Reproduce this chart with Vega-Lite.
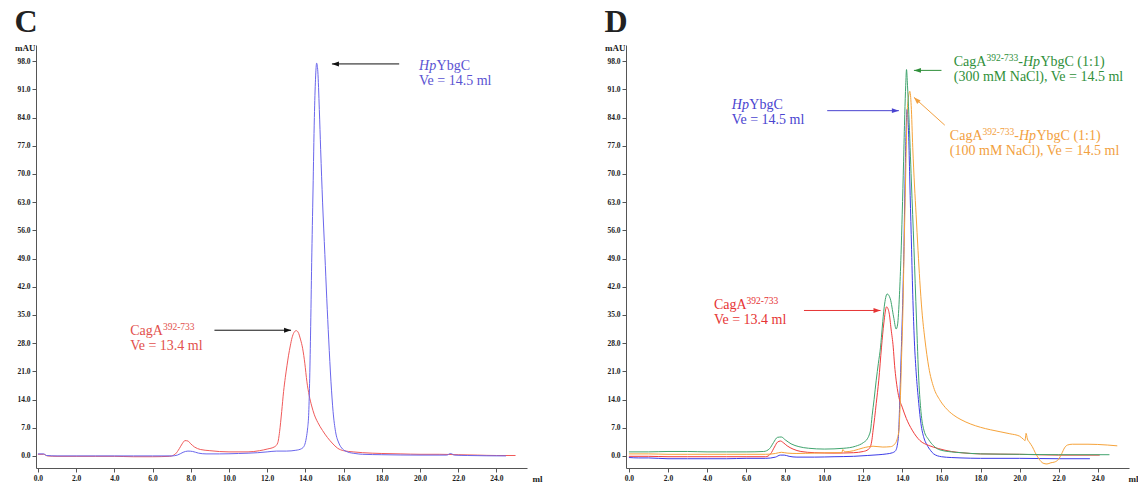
{
  "$schema": "https://vega.github.io/schema/vega-lite/v6.json",
  "background": "white",
  "padding": {"left": 14, "top": 6, "right": 0, "bottom": 0},
  "spacing": 62,
  "align": "none",
  "resolve": {"scale": {"color": "independent", "stroke": "independent", "x": "independent", "y": "independent"}},
  "config": {
    "view": {"stroke": null},
    "font": "Liberation Serif",
    "title": {"font": "Liberation Serif", "fontSize": 32, "fontWeight": "bold", "anchor": "start", "color": "#222", "offset": 4},
    "axis": {"domainColor": "#555", "tickColor": "#555", "labelFont": "Liberation Serif", "labelFontWeight": "bold", "labelFontSize": 7.5, "labelColor": "#222", "titleFont": "Liberation Serif", "titleFontWeight": "bold", "titleFontSize": 9, "titleColor": "#222", "grid": false, "tickSize": 4, "labelPadding": 2}
  },
  "datasets": {
    "c_curves": [
      {"s": "CagA", "ml": 0.0, "mAU": 0.4}, {"s": "CagA", "ml": 0.3, "mAU": 0.4}, {"s": "CagA", "ml": 0.5, "mAU": 0.0},
      {"s": "CagA", "ml": 1, "mAU": -0.1}, {"s": "CagA", "ml": 2, "mAU": -0.1}, {"s": "CagA", "ml": 3, "mAU": -0.1},
      {"s": "CagA", "ml": 4, "mAU": -0.1}, {"s": "CagA", "ml": 5, "mAU": -0.2}, {"s": "CagA", "ml": 6, "mAU": -0.2},
      {"s": "CagA", "ml": 6.9, "mAU": -0.1}, {"s": "CagA", "ml": 7.2, "mAU": 0.5}, {"s": "CagA", "ml": 7.4, "mAU": 1.8},
      {"s": "CagA", "ml": 7.55, "mAU": 3.0}, {"s": "CagA", "ml": 7.7, "mAU": 3.8}, {"s": "CagA", "ml": 7.85, "mAU": 3.7},
      {"s": "CagA", "ml": 8.0, "mAU": 3.0}, {"s": "CagA", "ml": 8.2, "mAU": 2.2}, {"s": "CagA", "ml": 8.5, "mAU": 1.6},
      {"s": "CagA", "ml": 9.0, "mAU": 1.3}, {"s": "CagA", "ml": 10, "mAU": 1.0}, {"s": "CagA", "ml": 11, "mAU": 1.0},
      {"s": "CagA", "ml": 11.6, "mAU": 1.3}, {"s": "CagA", "ml": 12.0, "mAU": 1.7}, {"s": "CagA", "ml": 12.4, "mAU": 2.3},
      {"s": "CagA", "ml": 12.55, "mAU": 3.2}, {"s": "CagA", "ml": 12.65, "mAU": 6}, {"s": "CagA", "ml": 12.76, "mAU": 11},
      {"s": "CagA", "ml": 12.86, "mAU": 16}, {"s": "CagA", "ml": 12.95, "mAU": 19.5}, {"s": "CagA", "ml": 13.04, "mAU": 22.5},
      {"s": "CagA", "ml": 13.12, "mAU": 25}, {"s": "CagA", "ml": 13.21, "mAU": 27.3}, {"s": "CagA", "ml": 13.3, "mAU": 29.3},
      {"s": "CagA", "ml": 13.4, "mAU": 30.6}, {"s": "CagA", "ml": 13.52, "mAU": 31.1}, {"s": "CagA", "ml": 13.62, "mAU": 30.7},
      {"s": "CagA", "ml": 13.74, "mAU": 29}, {"s": "CagA", "ml": 13.86, "mAU": 26.6}, {"s": "CagA", "ml": 13.97, "mAU": 23},
      {"s": "CagA", "ml": 14.08, "mAU": 18.4}, {"s": "CagA", "ml": 14.2, "mAU": 15}, {"s": "CagA", "ml": 14.33, "mAU": 12.4},
      {"s": "CagA", "ml": 14.47, "mAU": 10.2}, {"s": "CagA", "ml": 14.65, "mAU": 8.3}, {"s": "CagA", "ml": 14.9, "mAU": 6.3},
      {"s": "CagA", "ml": 15.15, "mAU": 4.6}, {"s": "CagA", "ml": 15.4, "mAU": 3.2}, {"s": "CagA", "ml": 15.69, "mAU": 1.9},
      {"s": "CagA", "ml": 16.0, "mAU": 1.3}, {"s": "CagA", "ml": 16.5, "mAU": 1.0}, {"s": "CagA", "ml": 17, "mAU": 0.8},
      {"s": "CagA", "ml": 18, "mAU": 0.6}, {"s": "CagA", "ml": 19, "mAU": 0.5}, {"s": "CagA", "ml": 20, "mAU": 0.4},
      {"s": "CagA", "ml": 21, "mAU": 0.4}, {"s": "CagA", "ml": 22, "mAU": 0.3}, {"s": "CagA", "ml": 23, "mAU": 0.2},
      {"s": "CagA", "ml": 24, "mAU": 0.1}, {"s": "CagA", "ml": 25, "mAU": 0.1},
      {"s": "HpYbgC", "ml": 0.0, "mAU": 0.5}, {"s": "HpYbgC", "ml": 0.3, "mAU": 0.5}, {"s": "HpYbgC", "ml": 0.45, "mAU": 0.1},
      {"s": "HpYbgC", "ml": 1, "mAU": 0}, {"s": "HpYbgC", "ml": 2, "mAU": 0}, {"s": "HpYbgC", "ml": 3, "mAU": 0},
      {"s": "HpYbgC", "ml": 4, "mAU": 0}, {"s": "HpYbgC", "ml": 5, "mAU": 0}, {"s": "HpYbgC", "ml": 6, "mAU": 0},
      {"s": "HpYbgC", "ml": 7.0, "mAU": 0}, {"s": "HpYbgC", "ml": 7.3, "mAU": 0.2}, {"s": "HpYbgC", "ml": 7.6, "mAU": 0.9},
      {"s": "HpYbgC", "ml": 7.85, "mAU": 1.2}, {"s": "HpYbgC", "ml": 8.1, "mAU": 1.1}, {"s": "HpYbgC", "ml": 8.4, "mAU": 0.7},
      {"s": "HpYbgC", "ml": 8.8, "mAU": 0.5}, {"s": "HpYbgC", "ml": 9.5, "mAU": 0.5}, {"s": "HpYbgC", "ml": 10.5, "mAU": 0.6},
      {"s": "HpYbgC", "ml": 11.5, "mAU": 0.8}, {"s": "HpYbgC", "ml": 12.0, "mAU": 1.0}, {"s": "HpYbgC", "ml": 12.5, "mAU": 1.2},
      {"s": "HpYbgC", "ml": 13.0, "mAU": 1.2}, {"s": "HpYbgC", "ml": 13.5, "mAU": 1.4}, {"s": "HpYbgC", "ml": 13.8, "mAU": 1.8},
      {"s": "HpYbgC", "ml": 13.95, "mAU": 2.6}, {"s": "HpYbgC", "ml": 14.05, "mAU": 4.5}, {"s": "HpYbgC", "ml": 14.12, "mAU": 7},
      {"s": "HpYbgC", "ml": 14.17, "mAU": 10}, {"s": "HpYbgC", "ml": 14.22, "mAU": 18}, {"s": "HpYbgC", "ml": 14.27, "mAU": 30},
      {"s": "HpYbgC", "ml": 14.33, "mAU": 48}, {"s": "HpYbgC", "ml": 14.4, "mAU": 66}, {"s": "HpYbgC", "ml": 14.47, "mAU": 84},
      {"s": "HpYbgC", "ml": 14.53, "mAU": 93.5}, {"s": "HpYbgC", "ml": 14.59, "mAU": 97.5}, {"s": "HpYbgC", "ml": 14.65, "mAU": 95.5},
      {"s": "HpYbgC", "ml": 14.73, "mAU": 86}, {"s": "HpYbgC", "ml": 14.8, "mAU": 76}, {"s": "HpYbgC", "ml": 14.9, "mAU": 63},
      {"s": "HpYbgC", "ml": 15.02, "mAU": 50}, {"s": "HpYbgC", "ml": 15.12, "mAU": 39}, {"s": "HpYbgC", "ml": 15.22, "mAU": 29},
      {"s": "HpYbgC", "ml": 15.34, "mAU": 18.4}, {"s": "HpYbgC", "ml": 15.45, "mAU": 11}, {"s": "HpYbgC", "ml": 15.58, "mAU": 6},
      {"s": "HpYbgC", "ml": 15.75, "mAU": 3.2}, {"s": "HpYbgC", "ml": 15.95, "mAU": 1.7}, {"s": "HpYbgC", "ml": 16.2, "mAU": 1.0},
      {"s": "HpYbgC", "ml": 16.6, "mAU": 0.6}, {"s": "HpYbgC", "ml": 17, "mAU": 0.4}, {"s": "HpYbgC", "ml": 18, "mAU": 0.3},
      {"s": "HpYbgC", "ml": 20, "mAU": 0.2}, {"s": "HpYbgC", "ml": 21.4, "mAU": 0.2}, {"s": "HpYbgC", "ml": 21.6, "mAU": 0.6},
      {"s": "HpYbgC", "ml": 21.8, "mAU": 0.2}, {"s": "HpYbgC", "ml": 22.5, "mAU": 0.1}, {"s": "HpYbgC", "ml": 24.5, "mAU": 0.0}
    ],
    "c_notes": [
      {"s": "HpYbgC", "part": "hp0", "text": "Hp", "ml": 19.95, "mAU": 95.8},
      {"s": "HpYbgC", "part": "ybgc0", "text": "YbgC", "ml": 19.95, "mAU": 95.8},
      {"s": "HpYbgC", "part": "plain", "text": "Ve = 14.5 ml", "ml": 19.95, "mAU": 92.0},
      {"s": "CagA", "part": "plain", "text": "CagA", "ml": 4.83, "mAU": 29.9},
      {"s": "CagA", "part": "sup", "text": "392-733", "ml": 4.83, "mAU": 29.9},
      {"s": "CagA", "part": "plain", "text": "Ve = 13.4 ml", "ml": 4.83, "mAU": 26.2}
    ],
    "c_arrows": [
      {"s": "HpYbgC", "ml": 18.91, "ml2": 15.39, "mAU": 97.3, "mAU2": 97.3},
      {"s": "CagA", "ml": 9.24, "ml2": 13.25, "mAU": 31.2, "mAU2": 31.2}
    ],
    "d_curves": [
      {"s": "HpYbgC", "ml": 0, "mAU": -0.4}, {"s": "HpYbgC", "ml": 0.5, "mAU": -0.5}, {"s": "HpYbgC", "ml": 1, "mAU": -0.5},
      {"s": "HpYbgC", "ml": 2, "mAU": -0.7}, {"s": "HpYbgC", "ml": 3, "mAU": -0.7}, {"s": "HpYbgC", "ml": 4, "mAU": -0.7},
      {"s": "HpYbgC", "ml": 5, "mAU": -0.7}, {"s": "HpYbgC", "ml": 6, "mAU": -0.6}, {"s": "HpYbgC", "ml": 7, "mAU": -0.6},
      {"s": "HpYbgC", "ml": 7.5, "mAU": -0.3}, {"s": "HpYbgC", "ml": 7.75, "mAU": 0.2}, {"s": "HpYbgC", "ml": 7.95, "mAU": 0.2},
      {"s": "HpYbgC", "ml": 8.2, "mAU": -0.1}, {"s": "HpYbgC", "ml": 8.6, "mAU": -0.3}, {"s": "HpYbgC", "ml": 9.5, "mAU": -0.3},
      {"s": "HpYbgC", "ml": 10.5, "mAU": -0.2}, {"s": "HpYbgC", "ml": 11.5, "mAU": -0.1}, {"s": "HpYbgC", "ml": 12.2, "mAU": 0.1},
      {"s": "HpYbgC", "ml": 12.8, "mAU": 0.3}, {"s": "HpYbgC", "ml": 13.2, "mAU": 0.5}, {"s": "HpYbgC", "ml": 13.5, "mAU": 0.8},
      {"s": "HpYbgC", "ml": 13.65, "mAU": 1.3}, {"s": "HpYbgC", "ml": 13.75, "mAU": 3}, {"s": "HpYbgC", "ml": 13.82, "mAU": 7},
      {"s": "HpYbgC", "ml": 13.87, "mAU": 14.6}, {"s": "HpYbgC", "ml": 13.95, "mAU": 27}, {"s": "HpYbgC", "ml": 14.02, "mAU": 39},
      {"s": "HpYbgC", "ml": 14.08, "mAU": 52}, {"s": "HpYbgC", "ml": 14.12, "mAU": 64}, {"s": "HpYbgC", "ml": 14.17, "mAU": 77},
      {"s": "HpYbgC", "ml": 14.21, "mAU": 84}, {"s": "HpYbgC", "ml": 14.24, "mAU": 86}, {"s": "HpYbgC", "ml": 14.28, "mAU": 84},
      {"s": "HpYbgC", "ml": 14.33, "mAU": 78}, {"s": "HpYbgC", "ml": 14.38, "mAU": 68}, {"s": "HpYbgC", "ml": 14.45, "mAU": 55},
      {"s": "HpYbgC", "ml": 14.53, "mAU": 40}, {"s": "HpYbgC", "ml": 14.6, "mAU": 30}, {"s": "HpYbgC", "ml": 14.7, "mAU": 21},
      {"s": "HpYbgC", "ml": 14.8, "mAU": 15}, {"s": "HpYbgC", "ml": 14.95, "mAU": 8}, {"s": "HpYbgC", "ml": 15.1, "mAU": 4.5},
      {"s": "HpYbgC", "ml": 15.25, "mAU": 2.8}, {"s": "HpYbgC", "ml": 15.45, "mAU": 1.3}, {"s": "HpYbgC", "ml": 15.6, "mAU": 0.5},
      {"s": "HpYbgC", "ml": 16, "mAU": -0.2}, {"s": "HpYbgC", "ml": 16.5, "mAU": -0.4}, {"s": "HpYbgC", "ml": 17, "mAU": -0.5},
      {"s": "HpYbgC", "ml": 18, "mAU": -0.6}, {"s": "HpYbgC", "ml": 20, "mAU": -0.6}, {"s": "HpYbgC", "ml": 22, "mAU": -0.7},
      {"s": "HpYbgC", "ml": 23.6, "mAU": -0.7},
      {"s": "CagA", "ml": 0, "mAU": -0.1}, {"s": "CagA", "ml": 1, "mAU": -0.1}, {"s": "CagA", "ml": 2, "mAU": -0.2},
      {"s": "CagA", "ml": 3, "mAU": -0.2}, {"s": "CagA", "ml": 4, "mAU": -0.2}, {"s": "CagA", "ml": 5, "mAU": -0.2},
      {"s": "CagA", "ml": 6, "mAU": -0.2}, {"s": "CagA", "ml": 7, "mAU": -0.2}, {"s": "CagA", "ml": 7.25, "mAU": 0.5},
      {"s": "CagA", "ml": 7.45, "mAU": 2.2}, {"s": "CagA", "ml": 7.6, "mAU": 3.4}, {"s": "CagA", "ml": 7.76, "mAU": 3.7},
      {"s": "CagA", "ml": 7.9, "mAU": 3.3}, {"s": "CagA", "ml": 8.1, "mAU": 2.5}, {"s": "CagA", "ml": 8.4, "mAU": 1.7},
      {"s": "CagA", "ml": 8.8, "mAU": 1.1}, {"s": "CagA", "ml": 9.5, "mAU": 0.8}, {"s": "CagA", "ml": 10.5, "mAU": 0.7},
      {"s": "CagA", "ml": 11.5, "mAU": 0.8}, {"s": "CagA", "ml": 12.0, "mAU": 1.1}, {"s": "CagA", "ml": 12.25, "mAU": 1.6},
      {"s": "CagA", "ml": 12.37, "mAU": 2.4}, {"s": "CagA", "ml": 12.44, "mAU": 4}, {"s": "CagA", "ml": 12.5, "mAU": 6.4},
      {"s": "CagA", "ml": 12.58, "mAU": 9.5}, {"s": "CagA", "ml": 12.66, "mAU": 13}, {"s": "CagA", "ml": 12.79, "mAU": 18.8},
      {"s": "CagA", "ml": 12.93, "mAU": 27}, {"s": "CagA", "ml": 13.05, "mAU": 33}, {"s": "CagA", "ml": 13.19, "mAU": 37},
      {"s": "CagA", "ml": 13.32, "mAU": 35.5}, {"s": "CagA", "ml": 13.42, "mAU": 31.5}, {"s": "CagA", "ml": 13.53, "mAU": 27},
      {"s": "CagA", "ml": 13.6, "mAU": 22.5}, {"s": "CagA", "ml": 13.68, "mAU": 18.8}, {"s": "CagA", "ml": 13.8, "mAU": 15},
      {"s": "CagA", "ml": 13.99, "mAU": 12.1}, {"s": "CagA", "ml": 14.2, "mAU": 9.3}, {"s": "CagA", "ml": 14.5, "mAU": 6.4},
      {"s": "CagA", "ml": 14.9, "mAU": 3.8}, {"s": "CagA", "ml": 15.35, "mAU": 2.6}, {"s": "CagA", "ml": 15.86, "mAU": 1.8},
      {"s": "CagA", "ml": 16.5, "mAU": 1.1}, {"s": "CagA", "ml": 17, "mAU": 0.8}, {"s": "CagA", "ml": 18, "mAU": 0.5},
      {"s": "CagA", "ml": 20, "mAU": 0.4}, {"s": "CagA", "ml": 22, "mAU": 0.2}, {"s": "CagA", "ml": 24.1, "mAU": 0.2},
      {"s": "100 mM", "ml": 0, "mAU": 0.5}, {"s": "100 mM", "ml": 1, "mAU": 0.5}, {"s": "100 mM", "ml": 2, "mAU": 0.4},
      {"s": "100 mM", "ml": 3, "mAU": 0.4}, {"s": "100 mM", "ml": 4, "mAU": 0.4}, {"s": "100 mM", "ml": 5, "mAU": 0.4},
      {"s": "100 mM", "ml": 6, "mAU": 0.4}, {"s": "100 mM", "ml": 7, "mAU": 0.4}, {"s": "100 mM", "ml": 7.5, "mAU": 0.6},
      {"s": "100 mM", "ml": 7.8, "mAU": 0.9}, {"s": "100 mM", "ml": 8.1, "mAU": 0.7}, {"s": "100 mM", "ml": 8.6, "mAU": 0.6},
      {"s": "100 mM", "ml": 9.5, "mAU": 0.7}, {"s": "100 mM", "ml": 10.5, "mAU": 0.8}, {"s": "100 mM", "ml": 10.9, "mAU": 0.8},
      {"s": "100 mM", "ml": 10.95, "mAU": 1.6}, {"s": "100 mM", "ml": 11.05, "mAU": 1.0}, {"s": "100 mM", "ml": 11.5, "mAU": 1.3},
      {"s": "100 mM", "ml": 12.0, "mAU": 2.0}, {"s": "100 mM", "ml": 12.5, "mAU": 2.4}, {"s": "100 mM", "ml": 13.0, "mAU": 2.2},
      {"s": "100 mM", "ml": 13.4, "mAU": 2.3}, {"s": "100 mM", "ml": 13.6, "mAU": 2.9}, {"s": "100 mM", "ml": 13.72, "mAU": 4},
      {"s": "100 mM", "ml": 13.82, "mAU": 6.4}, {"s": "100 mM", "ml": 13.9, "mAU": 15}, {"s": "100 mM", "ml": 13.96, "mAU": 25},
      {"s": "100 mM", "ml": 14.02, "mAU": 35}, {"s": "100 mM", "ml": 14.09, "mAU": 52}, {"s": "100 mM", "ml": 14.16, "mAU": 68},
      {"s": "100 mM", "ml": 14.24, "mAU": 84.7}, {"s": "100 mM", "ml": 14.31, "mAU": 89}, {"s": "100 mM", "ml": 14.38, "mAU": 90.5},
      {"s": "100 mM", "ml": 14.45, "mAU": 87}, {"s": "100 mM", "ml": 14.53, "mAU": 76.5}, {"s": "100 mM", "ml": 14.62, "mAU": 67},
      {"s": "100 mM", "ml": 14.7, "mAU": 60}, {"s": "100 mM", "ml": 14.8, "mAU": 51}, {"s": "100 mM", "ml": 14.89, "mAU": 43.5},
      {"s": "100 mM", "ml": 15.0, "mAU": 36}, {"s": "100 mM", "ml": 15.15, "mAU": 29}, {"s": "100 mM", "ml": 15.35, "mAU": 22},
      {"s": "100 mM", "ml": 15.6, "mAU": 17}, {"s": "100 mM", "ml": 15.9, "mAU": 14}, {"s": "100 mM", "ml": 16.2, "mAU": 12},
      {"s": "100 mM", "ml": 16.6, "mAU": 10.2}, {"s": "100 mM", "ml": 17, "mAU": 9}, {"s": "100 mM", "ml": 17.5, "mAU": 7.9},
      {"s": "100 mM", "ml": 18, "mAU": 7.1}, {"s": "100 mM", "ml": 18.5, "mAU": 6.5}, {"s": "100 mM", "ml": 19, "mAU": 6},
      {"s": "100 mM", "ml": 19.5, "mAU": 5.5}, {"s": "100 mM", "ml": 20, "mAU": 4.9}, {"s": "100 mM", "ml": 20.2, "mAU": 4.1},
      {"s": "100 mM", "ml": 20.28, "mAU": 3.8}, {"s": "100 mM", "ml": 20.33, "mAU": 5.6}, {"s": "100 mM", "ml": 20.4, "mAU": 4.2},
      {"s": "100 mM", "ml": 20.5, "mAU": 3.4}, {"s": "100 mM", "ml": 20.65, "mAU": 2.3}, {"s": "100 mM", "ml": 20.8, "mAU": 0.8},
      {"s": "100 mM", "ml": 21.0, "mAU": -0.8}, {"s": "100 mM", "ml": 21.2, "mAU": -1.8}, {"s": "100 mM", "ml": 21.4, "mAU": -2.0},
      {"s": "100 mM", "ml": 21.6, "mAU": -1.7}, {"s": "100 mM", "ml": 21.8, "mAU": -1.5}, {"s": "100 mM", "ml": 22.0, "mAU": -0.8},
      {"s": "100 mM", "ml": 22.15, "mAU": 0.5}, {"s": "100 mM", "ml": 22.3, "mAU": 2.0}, {"s": "100 mM", "ml": 22.45, "mAU": 2.7},
      {"s": "100 mM", "ml": 22.7, "mAU": 2.9}, {"s": "100 mM", "ml": 23.5, "mAU": 2.9}, {"s": "100 mM", "ml": 24.5, "mAU": 2.7},
      {"s": "100 mM", "ml": 25.0, "mAU": 2.5},
      {"s": "300 mM", "ml": 0, "mAU": 1.0}, {"s": "300 mM", "ml": 1, "mAU": 1.0}, {"s": "300 mM", "ml": 2, "mAU": 1.1},
      {"s": "300 mM", "ml": 3, "mAU": 1.1}, {"s": "300 mM", "ml": 4, "mAU": 1.0}, {"s": "300 mM", "ml": 5, "mAU": 1.0},
      {"s": "300 mM", "ml": 6, "mAU": 1.0}, {"s": "300 mM", "ml": 6.9, "mAU": 1.1}, {"s": "300 mM", "ml": 7.2, "mAU": 1.8},
      {"s": "300 mM", "ml": 7.4, "mAU": 3.3}, {"s": "300 mM", "ml": 7.6, "mAU": 4.6}, {"s": "300 mM", "ml": 7.8, "mAU": 4.7},
      {"s": "300 mM", "ml": 8.0, "mAU": 4.0}, {"s": "300 mM", "ml": 8.3, "mAU": 3.0}, {"s": "300 mM", "ml": 8.7, "mAU": 2.3},
      {"s": "300 mM", "ml": 9.2, "mAU": 1.9}, {"s": "300 mM", "ml": 10.0, "mAU": 1.7}, {"s": "300 mM", "ml": 11.0, "mAU": 1.9},
      {"s": "300 mM", "ml": 11.6, "mAU": 2.4}, {"s": "300 mM", "ml": 12.0, "mAU": 3.3}, {"s": "300 mM", "ml": 12.2, "mAU": 4.2},
      {"s": "300 mM", "ml": 12.3, "mAU": 5.2}, {"s": "300 mM", "ml": 12.37, "mAU": 6.4}, {"s": "300 mM", "ml": 12.45, "mAU": 10},
      {"s": "300 mM", "ml": 12.55, "mAU": 14}, {"s": "300 mM", "ml": 12.66, "mAU": 18.8}, {"s": "300 mM", "ml": 12.77, "mAU": 23},
      {"s": "300 mM", "ml": 12.88, "mAU": 27}, {"s": "300 mM", "ml": 12.97, "mAU": 32}, {"s": "300 mM", "ml": 13.07, "mAU": 37},
      {"s": "300 mM", "ml": 13.22, "mAU": 40.2}, {"s": "300 mM", "ml": 13.38, "mAU": 39}, {"s": "300 mM", "ml": 13.55, "mAU": 34.5},
      {"s": "300 mM", "ml": 13.68, "mAU": 31.5}, {"s": "300 mM", "ml": 13.75, "mAU": 32.5}, {"s": "300 mM", "ml": 13.85, "mAU": 40},
      {"s": "300 mM", "ml": 13.93, "mAU": 50}, {"s": "300 mM", "ml": 13.99, "mAU": 60}, {"s": "300 mM", "ml": 14.06, "mAU": 73},
      {"s": "300 mM", "ml": 14.12, "mAU": 84.7}, {"s": "300 mM", "ml": 14.17, "mAU": 92}, {"s": "300 mM", "ml": 14.21, "mAU": 95.9},
      {"s": "300 mM", "ml": 14.26, "mAU": 92}, {"s": "300 mM", "ml": 14.33, "mAU": 84.7}, {"s": "300 mM", "ml": 14.46, "mAU": 68},
      {"s": "300 mM", "ml": 14.59, "mAU": 51.7}, {"s": "300 mM", "ml": 14.72, "mAU": 34}, {"s": "300 mM", "ml": 14.84, "mAU": 18.8},
      {"s": "300 mM", "ml": 14.95, "mAU": 11}, {"s": "300 mM", "ml": 15.1, "mAU": 6.4}, {"s": "300 mM", "ml": 15.35, "mAU": 4},
      {"s": "300 mM", "ml": 15.6, "mAU": 2.5}, {"s": "300 mM", "ml": 15.86, "mAU": 1.6}, {"s": "300 mM", "ml": 16.5, "mAU": 1.0},
      {"s": "300 mM", "ml": 17, "mAU": 0.8}, {"s": "300 mM", "ml": 18, "mAU": 0.5}, {"s": "300 mM", "ml": 20, "mAU": 0.4},
      {"s": "300 mM", "ml": 22, "mAU": 0.3}, {"s": "300 mM", "ml": 24.6, "mAU": 0.3}
    ],
    "d_notes": [
      {"s": "300 mM", "part": "plain", "text": "CagA", "ml": 16.63, "mAU": 96.8},
      {"s": "300 mM", "part": "sup", "text": "392-733", "ml": 16.63, "mAU": 96.8},
      {"s": "300 mM", "part": "dash", "text": "-", "ml": 16.63, "mAU": 96.8},
      {"s": "300 mM", "part": "hp1", "text": "Hp", "ml": 16.63, "mAU": 96.8},
      {"s": "300 mM", "part": "ybgc1", "text": "YbgC (1:1)", "ml": 16.63, "mAU": 96.8},
      {"s": "300 mM", "part": "plain", "text": "(300 mM NaCl), Ve = 14.5 ml", "ml": 16.63, "mAU": 93.0},
      {"s": "HpYbgC", "part": "hp0", "text": "Hp", "ml": 5.27, "mAU": 86.1},
      {"s": "HpYbgC", "part": "ybgc0", "text": "YbgC", "ml": 5.27, "mAU": 86.1},
      {"s": "HpYbgC", "part": "plain", "text": "Ve = 14.5 ml", "ml": 5.27, "mAU": 82.4},
      {"s": "100 mM", "part": "plain", "text": "CagA", "ml": 16.43, "mAU": 78.5},
      {"s": "100 mM", "part": "sup", "text": "392-733", "ml": 16.43, "mAU": 78.5},
      {"s": "100 mM", "part": "dash", "text": "-", "ml": 16.43, "mAU": 78.5},
      {"s": "100 mM", "part": "hp1", "text": "Hp", "ml": 16.43, "mAU": 78.5},
      {"s": "100 mM", "part": "ybgc1", "text": "YbgC (1:1)", "ml": 16.43, "mAU": 78.5},
      {"s": "100 mM", "part": "plain", "text": "(100 mM NaCl), Ve = 14.5 ml", "ml": 16.43, "mAU": 74.8},
      {"s": "CagA", "part": "plain", "text": "CagA", "ml": 4.35, "mAU": 36.5},
      {"s": "CagA", "part": "sup", "text": "392-733", "ml": 4.35, "mAU": 36.5},
      {"s": "CagA", "part": "plain", "text": "Ve = 13.4 ml", "ml": 4.35, "mAU": 32.7}
    ],
    "d_arrows": [
      {"s": "300 mM", "ml": 16.0, "ml2": 14.59, "mAU": 95.7, "mAU2": 95.7},
      {"s": "HpYbgC", "ml": 10.15, "ml2": 13.82, "mAU": 85.7, "mAU2": 85.7},
      {"s": "100 mM", "ml": 16.17, "ml2": 14.59, "mAU": 82.1, "mAU2": 89.0},
      {"s": "CagA", "ml": 8.96, "ml2": 12.88, "mAU": 36.1, "mAU2": 36.1}
    ]
  },
  "hconcat": [
    {
      "title": "C",
      "width": 491,
      "height": 423,
      "encoding": {
        "x": {"type": "quantitative", "scale": {"domain": [-0.1, 25.6], "nice": false, "zero": false},
              "axis": {"values": [0, 2, 4, 6, 8, 10, 12, 14, 16, 18, 20, 22, 24], "format": ".1f", "title": "ml", "titleAngle": 0, "titleAlign": "left", "titleBaseline": "middle", "titleX": 496, "titleY": 10}},
        "y": {"type": "quantitative", "scale": {"domain": [-3, 102], "nice": false, "zero": false},
              "axis": {"values": [0, 7, 14, 21, 28, 35, 42, 49, 56, 63, 70, 77, 84, 91, 98], "format": ".1f", "title": "mAU", "titleAngle": 0, "titleAlign": "right", "titleBaseline": "alphabetic", "titleX": -1, "titleY": 5}}
      },
      "layer": [
        {
          "data": {"name": "c_curves"},
          "transform": [{"filter": "datum.s === 'CagA'"}],
          "mark": {"type": "line", "strokeWidth": 1, "interpolate": "monotone"},
          "encoding": {
            "x": {"field": "ml"},
            "y": {"field": "mAU"},
            "stroke": {"field": "s", "type": "nominal", "scale": {"domain": ["CagA", "HpYbgC"], "range": ["#f05a5a", "#6a66ec"]}, "legend": null}
          }
        },
        {
          "data": {"name": "c_curves"},
          "transform": [{"filter": "datum.s === 'HpYbgC'"}],
          "mark": {"type": "line", "strokeWidth": 1, "interpolate": "monotone"},
          "encoding": {
            "x": {"field": "ml"},
            "y": {"field": "mAU"},
            "stroke": {"field": "s", "type": "nominal", "legend": null}
          }
        },
        {
          "data": {"name": "c_arrows"},
          "mark": {"type": "rule", "color": "#111", "strokeWidth": 1},
          "encoding": {
            "x": {"field": "ml"},
            "x2": {"field": "ml2"},
            "y": {"field": "mAU"},
            "y2": {"field": "mAU2"}
          }
        },
        {
          "data": {"name": "c_arrows"},
          "transform": [{"filter": "datum.s === 'HpYbgC'"}],
          "mark": {"type": "point", "shape": "M0,0L2,-0.7L2,0.7Z", "filled": true, "color": "#111", "size": 49, "opacity": 1, "strokeWidth": 0},
          "encoding": {
            "x": {"field": "ml2"},
            "y": {"field": "mAU2"}
          }
        },
        {
          "data": {"name": "c_arrows"},
          "transform": [{"filter": "datum.s === 'CagA'"}],
          "mark": {"type": "point", "shape": "M0,0L-2,-0.7L-2,0.7Z", "filled": true, "color": "#111", "size": 49, "opacity": 1, "strokeWidth": 0},
          "encoding": {
            "x": {"field": "ml2"},
            "y": {"field": "mAU2"}
          }
        },
        {
          "data": {"name": "c_notes"},
          "transform": [{"filter": "datum.part === 'plain'"}],
          "mark": {"type": "text", "align": "left", "baseline": "alphabetic", "font": "Liberation Serif", "fontSize": 14},
          "encoding": {
            "x": {"field": "ml"},
            "y": {"field": "mAU"},
            "text": {"field": "text"},
            "color": {"field": "s", "type": "nominal", "scale": {"domain": ["CagA", "HpYbgC"], "range": ["#e2504c", "#5a52d2"]}, "legend": null}
          }
        },
        {
          "data": {"name": "c_notes"},
          "transform": [{"filter": "datum.part === 'sup'"}],
          "mark": {"type": "text", "align": "left", "baseline": "alphabetic", "font": "Liberation Serif", "fontSize": 9.5, "dx": 32.7, "dy": -5},
          "encoding": {
            "x": {"field": "ml"},
            "y": {"field": "mAU"},
            "text": {"field": "text"},
            "color": {"field": "s", "type": "nominal", "legend": null}
          }
        },
        {
          "data": {"name": "c_notes"},
          "transform": [{"filter": "datum.part === 'hp0'"}],
          "mark": {"type": "text", "align": "left", "baseline": "alphabetic", "font": "Liberation Serif", "fontSize": 14, "fontStyle": "italic"},
          "encoding": {
            "x": {"field": "ml"},
            "y": {"field": "mAU"},
            "text": {"field": "text"},
            "color": {"field": "s", "type": "nominal", "legend": null}
          }
        },
        {
          "data": {"name": "c_notes"},
          "transform": [{"filter": "datum.part === 'ybgc0'"}],
          "mark": {"type": "text", "align": "left", "baseline": "alphabetic", "font": "Liberation Serif", "fontSize": 14, "dx": 17.5},
          "encoding": {
            "x": {"field": "ml"},
            "y": {"field": "mAU"},
            "text": {"field": "text"},
            "color": {"field": "s", "type": "nominal", "legend": null}
          }
        }
      ]
    },
    {
      "title": "D",
      "width": 503,
      "height": 423,
      "encoding": {
        "x": {"type": "quantitative", "scale": {"domain": [-0.15, 25.6], "nice": false, "zero": false},
              "axis": {"values": [0, 2, 4, 6, 8, 10, 12, 14, 16, 18, 20, 22, 24], "format": ".1f", "title": "ml", "titleAngle": 0, "titleAlign": "left", "titleBaseline": "middle", "titleX": 502, "titleY": 10}},
        "y": {"type": "quantitative", "scale": {"domain": [-3, 102], "nice": false, "zero": false},
              "axis": {"values": [0, 7, 14, 21, 28, 35, 42, 49, 56, 63, 70, 77, 84, 91, 98], "format": ".1f", "title": "mAU", "titleAngle": 0, "titleAlign": "right", "titleBaseline": "alphabetic", "titleX": -1, "titleY": 5}}
      },
      "layer": [
        {
          "data": {"name": "d_curves"},
          "transform": [{"filter": "datum.s === 'HpYbgC'"}],
          "mark": {"type": "line", "strokeWidth": 1, "interpolate": "monotone"},
          "encoding": {
            "x": {"field": "ml"},
            "y": {"field": "mAU"},
            "stroke": {"field": "s", "type": "nominal", "scale": {"domain": ["HpYbgC", "CagA", "100 mM", "300 mM"], "range": ["#3c3ce8", "#f03c3c", "#f6a33a", "#40a46e"]}, "legend": null}
          }
        },
        {
          "data": {"name": "d_curves"},
          "transform": [{"filter": "datum.s === 'CagA'"}],
          "mark": {"type": "line", "strokeWidth": 1, "interpolate": "monotone"},
          "encoding": {
            "x": {"field": "ml"},
            "y": {"field": "mAU"},
            "stroke": {"field": "s", "type": "nominal", "legend": null}
          }
        },
        {
          "data": {"name": "d_curves"},
          "transform": [{"filter": "datum.s === '100 mM'"}],
          "mark": {"type": "line", "strokeWidth": 1, "interpolate": "monotone"},
          "encoding": {
            "x": {"field": "ml"},
            "y": {"field": "mAU"},
            "stroke": {"field": "s", "type": "nominal", "legend": null}
          }
        },
        {
          "data": {"name": "d_curves"},
          "transform": [{"filter": "datum.s === '300 mM'"}],
          "mark": {"type": "line", "strokeWidth": 1, "interpolate": "monotone"},
          "encoding": {
            "x": {"field": "ml"},
            "y": {"field": "mAU"},
            "stroke": {"field": "s", "type": "nominal", "legend": null}
          }
        },
        {
          "data": {"name": "d_arrows"},
          "mark": {"type": "rule", "strokeWidth": 1},
          "encoding": {
            "x": {"field": "ml"},
            "x2": {"field": "ml2"},
            "y": {"field": "mAU"},
            "y2": {"field": "mAU2"},
            "color": {"field": "s", "type": "nominal", "scale": {"domain": ["300 mM", "HpYbgC", "100 mM", "CagA"], "range": ["#2f8f3a", "#4a44d0", "#f2a040", "#e63434"]}, "legend": null}
          }
        },
        {
          "data": {"name": "d_arrows"},
          "transform": [{"filter": "datum.s === '300 mM'"}],
          "mark": {"type": "point", "shape": "M0,0L2,-0.7L2,0.7Z", "filled": true, "size": 49, "opacity": 1, "strokeWidth": 0},
          "encoding": {
            "x": {"field": "ml2"},
            "y": {"field": "mAU2"},
            "color": {"field": "s", "type": "nominal", "legend": null}
          }
        },
        {
          "data": {"name": "d_arrows"},
          "transform": [{"filter": "datum.s === 'HpYbgC' || datum.s === 'CagA'"}],
          "mark": {"type": "point", "shape": "M0,0L-2,-0.7L-2,0.7Z", "filled": true, "size": 49, "opacity": 1, "strokeWidth": 0},
          "encoding": {
            "x": {"field": "ml2"},
            "y": {"field": "mAU2"},
            "color": {"field": "s", "type": "nominal", "legend": null}
          }
        },
        {
          "data": {"name": "d_arrows"},
          "transform": [{"filter": "datum.s === '100 mM'"}],
          "mark": {"type": "point", "shape": "M0,0L1.91,0.92L0.92,1.91Z", "filled": true, "size": 49, "opacity": 1, "strokeWidth": 0},
          "encoding": {
            "x": {"field": "ml2"},
            "y": {"field": "mAU2"},
            "color": {"field": "s", "type": "nominal", "legend": null}
          }
        },
        {
          "data": {"name": "d_notes"},
          "transform": [{"filter": "datum.part === 'plain'"}],
          "mark": {"type": "text", "align": "left", "baseline": "alphabetic", "font": "Liberation Serif", "fontSize": 14},
          "encoding": {
            "x": {"field": "ml"},
            "y": {"field": "mAU"},
            "text": {"field": "text"},
            "color": {"field": "s", "type": "nominal", "legend": null}
          }
        },
        {
          "data": {"name": "d_notes"},
          "transform": [{"filter": "datum.part === 'sup'"}],
          "mark": {"type": "text", "align": "left", "baseline": "alphabetic", "font": "Liberation Serif", "fontSize": 9.5, "dx": 32.7, "dy": -5},
          "encoding": {
            "x": {"field": "ml"},
            "y": {"field": "mAU"},
            "text": {"field": "text"},
            "color": {"field": "s", "type": "nominal", "legend": null}
          }
        },
        {
          "data": {"name": "d_notes"},
          "transform": [{"filter": "datum.part === 'dash'"}],
          "mark": {"type": "text", "align": "left", "baseline": "alphabetic", "font": "Liberation Serif", "fontSize": 14, "dx": 64.4},
          "encoding": {
            "x": {"field": "ml"},
            "y": {"field": "mAU"},
            "text": {"field": "text"},
            "color": {"field": "s", "type": "nominal", "legend": null}
          }
        },
        {
          "data": {"name": "d_notes"},
          "transform": [{"filter": "datum.part === 'hp1'"}],
          "mark": {"type": "text", "align": "left", "baseline": "alphabetic", "font": "Liberation Serif", "fontSize": 14, "fontStyle": "italic", "dx": 69.1},
          "encoding": {
            "x": {"field": "ml"},
            "y": {"field": "mAU"},
            "text": {"field": "text"},
            "color": {"field": "s", "type": "nominal", "legend": null}
          }
        },
        {
          "data": {"name": "d_notes"},
          "transform": [{"filter": "datum.part === 'ybgc1'"}],
          "mark": {"type": "text", "align": "left", "baseline": "alphabetic", "font": "Liberation Serif", "fontSize": 14, "dx": 86.6},
          "encoding": {
            "x": {"field": "ml"},
            "y": {"field": "mAU"},
            "text": {"field": "text"},
            "color": {"field": "s", "type": "nominal", "legend": null}
          }
        },
        {
          "data": {"name": "d_notes"},
          "transform": [{"filter": "datum.part === 'hp0'"}],
          "mark": {"type": "text", "align": "left", "baseline": "alphabetic", "font": "Liberation Serif", "fontSize": 14, "fontStyle": "italic"},
          "encoding": {
            "x": {"field": "ml"},
            "y": {"field": "mAU"},
            "text": {"field": "text"},
            "color": {"field": "s", "type": "nominal", "legend": null}
          }
        },
        {
          "data": {"name": "d_notes"},
          "transform": [{"filter": "datum.part === 'ybgc0'"}],
          "mark": {"type": "text", "align": "left", "baseline": "alphabetic", "font": "Liberation Serif", "fontSize": 14, "dx": 17.5},
          "encoding": {
            "x": {"field": "ml"},
            "y": {"field": "mAU"},
            "text": {"field": "text"},
            "color": {"field": "s", "type": "nominal", "legend": null}
          }
        }
      ]
    }
  ]
}
